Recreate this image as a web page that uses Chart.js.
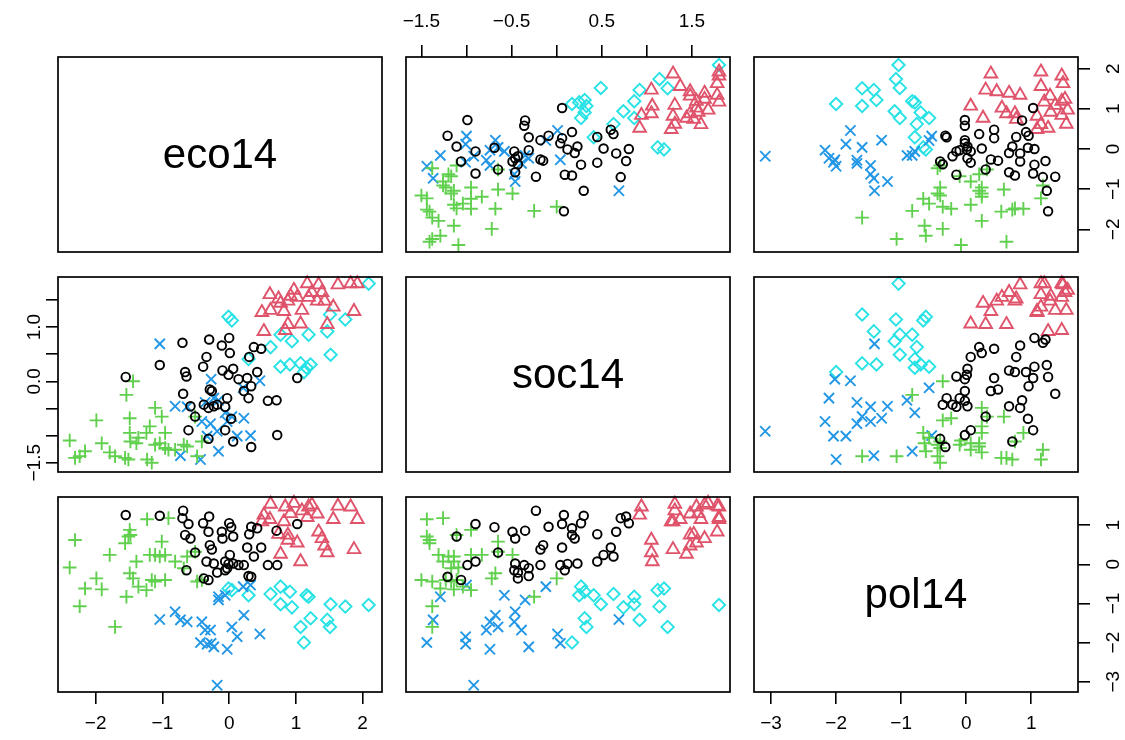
<!DOCTYPE html>
<html>
<head>
<meta charset="utf-8">
<script src="https://cdn.jsdelivr.net/npm/chart.js@4.4.0/dist/chart.umd.min.js"></script>
<style>
  html, body { margin: 0; padding: 0; background: #fff; overflow: hidden; }
  #wrap { position: relative; width: 1125px; height: 740px; }
  #wrap canvas { position: absolute; }
</style>
</head>
<body>
<div id="wrap"></div>
<script>
"use strict";

// Variable names (diagonal labels)
var varNames = ["eco14", "soc14", "pol14"];

// Group 1: black circles
var ecoBlack = [-1.55, -1.04, -0.70, -0.69, -0.66, -0.64, -0.61, -0.58, -0.51, -0.39, -0.38, -0.34, -0.31, -0.31, -0.30, -0.29, -0.26, -0.23, -0.18, -0.11, -0.10, -0.06, -0.06, -0.03, -0.01, 0.00, 0.01, 0.03, 0.06, 0.06, 0.14, 0.22, 0.27, 0.29, 0.30, 0.33, 0.33, 0.37, 0.42, 0.48, 0.58, 0.71, 0.72, 1.02];
var socBlack = [0.08, 0.30, 0.71, -0.23, 0.17, 0.09, -0.90, -0.46, -0.65, 0.27, -0.43, 0.45, -0.49, -1.06, 0.77, -0.15, -0.18, -0.46, -0.43, 0.66, 0.20, -0.47, -0.90, -0.31, 0.12, 0.80, 0.52, -0.69, 0.23, -1.11, 0.04, -0.18, 0.06, -0.31, 0.45, -1.21, -0.09, 0.63, 0.17, 0.60, -0.36, -0.35, -0.99, 0.06];
var polBlack = [1.26, 1.24, 1.18, 1.37, 0.75, -0.15, 1.03, 0.66, 0.30, 1.05, -0.36, 0.07, 0.83, -0.40, 1.22, 0.49, 0.38, 0.02, -0.21, 0.83, 0.66, -0.15, 0.07, -0.10, 0.01, 1.05, 0.24, 0.95, 0.02, 0.71, -0.02, -0.02, 0.43, -0.30, 0.77, -0.32, 0.96, 0.20, 0.92, 0.43, -0.02, 0.86, -0.02, 1.03];

// Group 2: red triangles
var ecoRed = [0.49, 0.52, 0.61, 0.62, 0.74, 0.77, 0.82, 0.84, 0.88, 0.88, 0.92, 0.97, 1.02, 1.07, 1.09, 1.17, 1.19, 1.24, 1.32, 1.34, 1.39, 1.43, 1.47, 1.56, 1.63, 1.82, 1.87, 1.92];
var socRed = [1.27, 0.92, 1.60, 1.31, 1.52, 1.44, 1.29, 0.94, 1.48, 1.05, 1.57, 1.68, 1.55, 1.06, 1.31, 1.80, 1.55, 1.64, 1.48, 1.78, 1.64, 1.48, 1.05, 1.37, 1.78, 1.80, 1.29, 1.80];
var polRed = [1.09, 1.26, 1.15, 1.54, 0.77, 0.26, 1.09, 1.47, 0.75, 0.62, 1.30, 1.56, 0.55, 0.07, 1.37, 1.20, 1.47, 1.52, 1.29, 0.83, 0.66, 0.47, 0.30, 1.15, 1.49, 1.47, 0.38, 1.15];

// Group 3: green plus signs
var ecoGreen = [-2.39, -2.31, -2.24, -2.16, -1.99, -1.91, -1.79, -1.71, -1.56, -1.54, -1.51, -1.49, -1.49, -1.48, -1.44, -1.39, -1.36, -1.24, -1.23, -1.19, -1.16, -1.11, -1.11, -1.04, -1.01, -0.96, -0.96, -0.91, -0.81, -0.68, -0.63, -0.51, -0.48, -0.41];
var socGreen = [-1.09, -1.41, -1.38, -1.29, -0.72, -1.14, -1.31, -1.38, -1.41, -0.25, -1.44, -0.68, -0.95, -1.11, 0.00, -1.14, -1.04, -0.95, -1.44, -0.83, -1.50, -0.49, -1.17, -1.14, -0.65, -0.95, -1.23, -1.26, -1.26, -1.17, -1.20, -0.65, -1.38, -1.11];
var polGreen = [-0.08, 0.62, -1.07, -0.62, -0.36, -0.64, 0.24, -1.60, 0.54, -0.83, 0.71, -0.23, 0.88, 0.75, -0.36, 0.07, -0.57, -0.66, 1.15, 0.24, -0.40, 0.24, -0.44, 0.20, 0.58, 0.24, -0.40, 1.18, 0.07, -0.10, 0.20, 0.32, -0.44, -0.40];

// Group 4: blue crosses
var ecoBlue = [-1.04, -0.81, -0.73, -0.63, -0.43, -0.41, -0.36, -0.33, -0.28, -0.27, -0.23, -0.18, -0.16, -0.16, -0.06, -0.03, 0.04, 0.12, 0.21, 0.22, 0.32, 0.46];
var socBlue = [0.69, -0.46, -1.37, -0.47, -1.44, -0.74, -0.39, -1.01, -0.78, 0.04, -0.31, -0.92, -0.35, -1.29, -0.58, -0.74, -0.65, -1.01, -0.12, -0.68, -1.00, 0.01];
var polBlue = [-1.41, -1.21, -1.42, -1.47, -2.00, -1.47, -1.68, -2.04, -1.68, -2.02, -2.11, -3.09, -0.91, -0.83, -0.79, -2.17, -1.60, -1.85, -0.57, -1.30, -0.53, -1.78];

// Group 5: cyan diamonds
var ecoCyan = [-0.01, 0.04, 0.29, 0.62, 0.77, 0.77, 0.91, 0.94, 1.07, 1.12, 1.16, 1.19, 1.22, 1.47, 1.51, 1.52, 1.74, 2.09];
var socCyan = [1.19, 1.12, 0.41, 0.63, 0.86, 0.27, 0.31, 0.74, 0.33, 0.17, 0.25, 0.86, 0.31, 0.92, 1.23, 0.49, 1.14, 1.80];
var polCyan = [-0.62, -0.66, -0.79, -0.76, -1.02, -0.57, -0.70, -1.10, -1.60, -2.00, -0.79, -0.83, -1.38, -1.42, -1.60, -1.02, -1.08, -1.04];

// Tick values and labels
var ecoTicks = [-2, -1, 0, 1, 2];
var socTicks = [-1.5, -1, -0.5, 0, 0.5, 1, 1.5];
var polTicks = [-3, -2, -1, 0, 1];
var ecoLabels = ["\u22122", "\u22121", "0", "1", "2"];
var polLabels = ["\u22123", "\u22122", "\u22121", "0", "1"];
var socTopLabels = ["\u22121.5", "", "\u22120.5", "", "0.5", "", "1.5"];
var socLeftLabels = ["\u22121.5", "", "", "0.0", "", "1.0", ""];

// Axis limits
var ecoRange = [-2.565, 2.29];
var socRange = [-1.671, 1.922];
var polRange = [-3.263, 1.72];

// Layout
var colLeft = [58, 406, 754];
var rowTop = [57, 277, 497];
var panelW = 324, panelH = 195, margin = 60, tickLen = 12;
var tickFont = '19px "Liberation Sans", Arial, sans-serif';

var vars = [
    {ticks: ecoTicks, range: ecoRange},
    {ticks: socTicks, range: socRange},
    {ticks: polTicks, range: polRange}
];

var groups = [
    {color: "#000000", style: "circle", radius: 4.3, vals: [ecoBlack, socBlack, polBlack]},
    {color: "#DF536B", style: "triangle", radius: 7.3, vals: [ecoRed, socRed, polRed]},
    {color: "#61D04F", style: "cross", radius: 6.8, vals: [ecoGreen, socGreen, polGreen]},
    {color: "#2297E6", style: "crossRot", radius: 7.2, vals: [ecoBlue, socBlue, polBlue]},
    {color: "#28E2E5", style: "rectRot", radius: 6.2, vals: [ecoCyan, socCyan, polCyan]}
];

// which panels carry axes (row,col)
var axisSides = {
    "0,1": {top: socTopLabels},
    "0,2": {right: ecoLabels},
    "1,0": {left: socLeftLabels},
    "2,0": {bottom: ecoLabels},
    "2,2": {bottom: polLabels, right: polLabels}
};

// Box, diagonal name and tick labels
var panelDecor = {
    id: "panelDecor",
    afterDraw: function (chart, args, opts) {
        var ctx = chart.ctx, a = chart.chartArea;
        ctx.save();
        ctx.strokeStyle = "#000";
        ctx.lineWidth = 1.7;
        ctx.strokeRect(a.left, a.top, a.right - a.left, a.bottom - a.top);
        ctx.fillStyle = "#000";
        if (opts.title) {
            ctx.font = '42px "Liberation Sans", Arial, sans-serif';
            ctx.textAlign = "center";
            ctx.textBaseline = "middle";
            ctx.fillText(opts.title, (a.left + a.right) / 2, (a.top + a.bottom) / 2 + 2);
        }
        ctx.font = tickFont;
        ctx.textAlign = "center";
        ctx.textBaseline = "alphabetic";
        var s = opts.sides || {};
        function each(scale, labels, fn) {
            scale.ticks.forEach(function (t, k) {
                if (labels[k]) fn(labels[k], scale.getPixelForValue(t.value));
            });
        }
        function rotated(txt, x, y) {
            ctx.save();
            ctx.translate(x, y);
            ctx.rotate(-Math.PI / 2);
            ctx.fillText(txt, 0, 0);
            ctx.restore();
        }
        if (s.top) each(chart.scales.x, s.top, function (txt, p) { ctx.fillText(txt, p, a.top - 30); });
        if (s.bottom) each(chart.scales.x, s.bottom, function (txt, p) { ctx.fillText(txt, p, a.bottom + 37); });
        if (s.left) each(chart.scales.y, s.left, function (txt, p) { rotated(txt, a.left - 18, p); });
        if (s.right) each(chart.scales.y, s.right, function (txt, p) { rotated(txt, a.right + 41, p); });
        ctx.restore();
    }
};

function scaleOptions(v, shown, position, horizontal) {
    return {
        type: "linear",
        position: position,
        display: shown,
        min: v.range[0],
        max: v.range[1],
        afterBuildTicks: function (scale) {
            scale.ticks = v.ticks.map(function (t) { return {value: t}; });
        },
        afterFit: function (scale) {
            if (!shown) return;
            if (horizontal) scale.height = tickLen; else scale.width = tickLen;
        },
        grid: {
            drawOnChartArea: false,
            drawTicks: true,
            tickLength: tickLen,
            color: "#000",
            lineWidth: 1.6
        },
        border: {display: false},
        ticks: {display: false}
    };
}

function buildPanel(row, col) {
    var sides = axisSides[row + "," + col] || {};
    var canvas = document.createElement("canvas");
    canvas.width = panelW + 2 * margin;
    canvas.height = panelH + 2 * margin;
    canvas.style.left = (colLeft[col] - margin) + "px";
    canvas.style.top = (rowTop[row] - margin) + "px";
    canvas.style.width = canvas.width + "px";
    canvas.style.height = canvas.height + "px";
    document.getElementById("wrap").appendChild(canvas);

    var datasets = [];
    if (row !== col) {
        groups.forEach(function (g) {
            datasets.push({
                data: g.vals[col].map(function (v, k) { return {x: v, y: g.vals[row][k]}; }),
                pointStyle: g.style,
                pointRadius: g.radius,
                pointHoverRadius: g.radius,
                borderColor: g.color,
                backgroundColor: "rgba(0,0,0,0)",
                borderWidth: 1.9,
                clip: false
            });
        });
    }

    var xPos = sides.top ? "top" : "bottom";
    var yPos = sides.left ? "left" : "right";

    new Chart(canvas, {
        type: "scatter",
        data: {datasets: datasets},
        options: {
            responsive: false,
            animation: false,
            events: [],
            layout: {
                padding: {
                    left: margin - (sides.left ? tickLen : 0),
                    right: margin - (sides.right ? tickLen : 0),
                    top: margin - (sides.top ? tickLen : 0),
                    bottom: margin - (sides.bottom ? tickLen : 0)
                }
            },
            scales: {
                x: scaleOptions(vars[col], !!(sides.top || sides.bottom), xPos, true),
                y: scaleOptions(vars[row], !!(sides.left || sides.right), yPos, false)
            },
            plugins: {
                legend: {display: false},
                tooltip: {enabled: false},
                panelDecor: {title: row === col ? varNames[row] : null, sides: sides}
            }
        },
        plugins: [panelDecor]
    });
}

for (var r = 0; r < 3; r++) {
    for (var c = 0; c < 3; c++) {
        buildPanel(r, c);
    }
}
</script>
</body>
</html>
